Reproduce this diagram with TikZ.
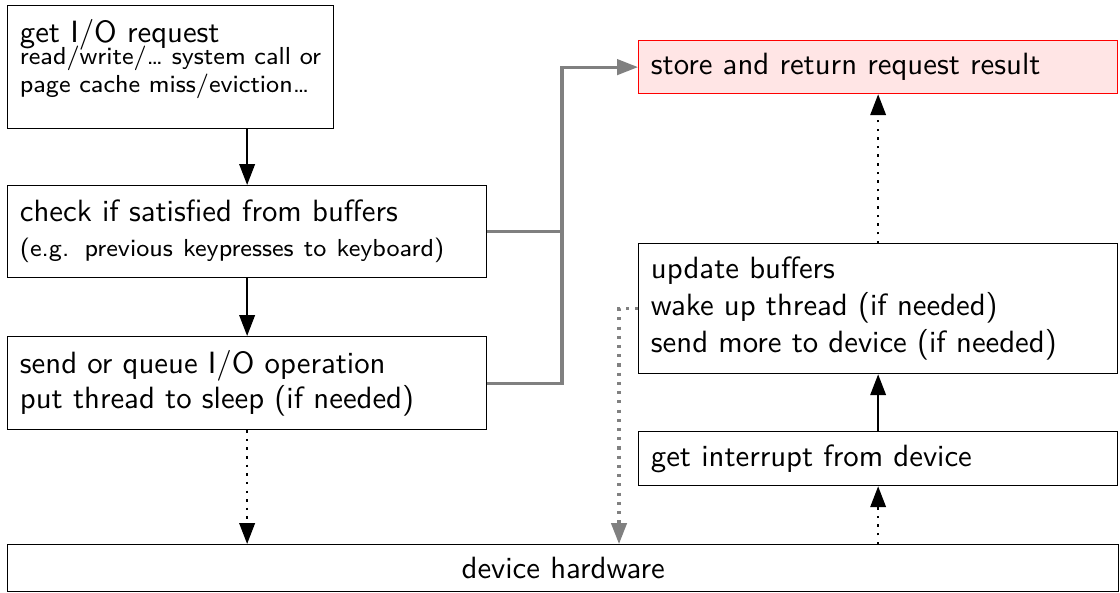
\documentclass[tikz,border=0pt]{standalone}
\usepackage{tikz}
\usetikzlibrary{arrows.meta,positioning,calc}

\begin{document}
\begin{tikzpicture}[x=0.32517pt, y=-0.32517pt,
    every node/.style={font=\sffamily},
    box/.style={draw, anchor=north west, align=left, inner xsep=4pt, inner ysep=0pt},
    wide/.style={box, text width=147.76pt},
    result/.style={wide, draw=red, fill=red!10},
    flow/.style={-{Triangle[length=6.8pt,width=5pt]}, thick},
    wait/.style={flow, dotted},
    shortcut/.style={-{Triangle[length=6.8pt,width=5pt]}, line width=1pt, black!50},
    wakeline/.style={shortcut, dotted}]

    \useasboundingbox (0,0) rectangle (1120,592);

    % Request side
    \node[box, minimum height=40pt] (request) at (7,5) {get I/O request\\[-5pt]{\footnotesize read/write/… system call or}\\[-2.76pt]{\footnotesize page cache miss/eviction…\rule[-7.15pt]{0pt}{0pt}}};
    \node[wide, minimum height=29.92pt] (check) at (7,185) {check if satisfied from buffers\\[-0.6pt]{\footnotesize (e.g. previous keypresses to keyboard)}};
    \node[wide, minimum height=30.24pt] (queue) at (7,336) {send or queue I/O operation\\[-0.6pt]put thread to sleep (if needed)};

    % Device side
    \node[result, minimum height=17.23pt] (store) at (638,40) {store and return request result};
    \node[wide, minimum height=42.27pt] (update) at (638,243) {update buffers\\wake up thread (if needed)\\send more to device (if needed)};
    \node[wide, minimum height=17.56pt] (irq) at (638,431) {get interrupt from device};
    \node[box, minimum width=361.3pt, minimum height=15.28pt] (device) at (7,544) {device hardware};

    \coordinate (split) at (562,0);
    \coordinate (wakeup) at (619,0);

    % Request path
    \path[flow]
        (check.north |- request.south) edge (check.north)
        (check.south) edge (queue.north);
    \path[wait]
        (queue.south) edge (queue.south |- device.north);

    % Device path
    \path[flow] (irq.north) edge (update.south);
    \path[wait]
        (irq.south |- device.north) edge (irq.south)
        (update.north) edge (store.south);

    % Shortcuts
    \draw[shortcut] (check.east) -- (check.east -| split) |- (store.west);
    \draw[shortcut, -] (queue.east) -| (split |- check.east);
    \draw[wakeline] (update.west) -- (update.west -| wakeup) -- (wakeup |- device.north);

\end{tikzpicture}
\end{document}
